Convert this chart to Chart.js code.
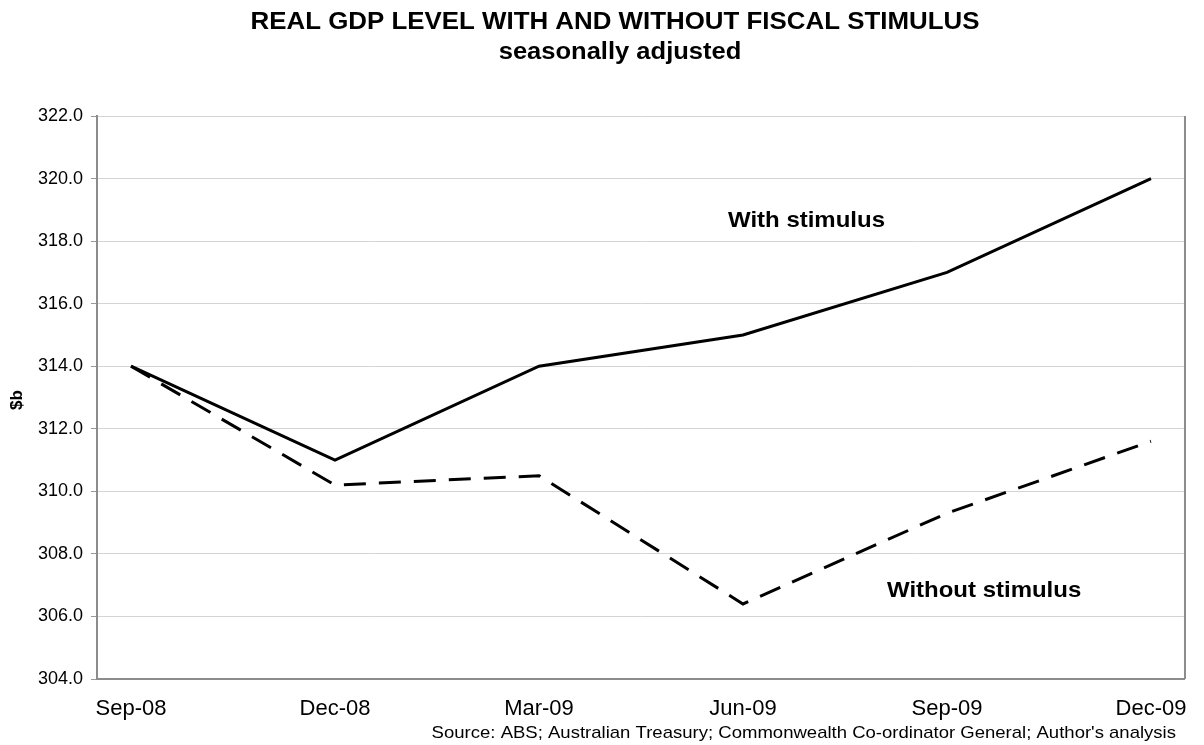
<!DOCTYPE html>
<html lang="en">

<head>
    <meta charset="UTF-8">
    <title>Real GDP Level</title>
    <script src="https://cdn.jsdelivr.net/npm/chart.js"></script>
    <style>
        body { margin: 0; background: #fff; }
    </style>
</head>

<body>
    <canvas id="gdpChart" width="1204" height="745"></canvas>

    <script>
        // Quarter labels and values ($b)
        const quarters = ['Sep-08', 'Dec-08', 'Mar-09', 'Jun-09', 'Sep-09', 'Dec-09'];
        const withStimulus = [314.0, 311.0, 314.0, 315.0, 317.0, 320.0];
        const withoutStimulus = [314.0, 310.2, 310.5, 306.4, 309.3, 311.6];
        const yTicks = [304, 306, 308, 310, 312, 314, 316, 318, 320, 322];

        const FONT = 'Arial, "Liberation Sans", sans-serif';

        // draw text with a small horizontal stretch like the original image
        function stretchedText(ctx, text, x, y, font, align, sx) {
            ctx.save();
            ctx.font = font;
            ctx.fillStyle = '#000';
            ctx.textBaseline = 'middle';
            ctx.textAlign = align;
            ctx.translate(x, y);
            ctx.scale(sx, 1);
            ctx.fillText(text, 0, 0);
            ctx.restore();
        }

        const textPlugin = {
            id: 'texts',
            afterDraw(chart) {
                const ctx = chart.ctx;
                const area = chart.chartArea;

                // right border of the plot
                ctx.save();
                ctx.strokeStyle = '#8c8c8c';
                ctx.lineWidth = 2;
                ctx.beginPath();
                ctx.moveTo(area.right, area.top);
                ctx.lineTo(area.right, area.bottom);
                ctx.stroke();
                ctx.restore();

                stretchedText(ctx, 'REAL GDP LEVEL WITH AND WITHOUT FISCAL STIMULUS', 615, 23, 'bold 23px ' + FONT, 'center', 1.125);
                stretchedText(ctx, 'seasonally adjusted', 620, 53, 'bold 23px ' + FONT, 'center', 1.11);

                stretchedText(ctx, 'With stimulus', 728, 221, 'bold 22px ' + FONT, 'left', 1.09);
                stretchedText(ctx, 'Without stimulus', 887, 591, 'bold 22px ' + FONT, 'left', 1.09);

                stretchedText(ctx, "Source: ABS; Australian Treasury; Commonwealth Co-ordinator General; Author's analysis",
                    1176, 733, '17px ' + FONT, 'right', 1.09);

                // y axis title
                ctx.save();
                ctx.translate(17, 400);
                ctx.rotate(-Math.PI / 2);
                ctx.font = 'bold 17px ' + FONT;
                ctx.fillStyle = '#000';
                ctx.textAlign = 'center';
                ctx.textBaseline = 'middle';
                ctx.fillText('$b', 0, 0);
                ctx.restore();
            }
        };

        const ctx = document.getElementById('gdpChart').getContext('2d');
        const gdpChart = new Chart(ctx, {
            type: 'line',
            data: {
                datasets: [{
                    label: 'With stimulus',
                    data: withStimulus.map((v, i) => ({ x: i, y: v })),
                    borderColor: '#000',
                    borderWidth: 3,
                    pointRadius: 0,
                    tension: 0
                }, {
                    label: 'Without stimulus',
                    data: withoutStimulus.map((v, i) => ({ x: i, y: v })),
                    borderColor: '#000',
                    borderWidth: 3,
                    borderDash: [22, 13],
                    pointRadius: 0,
                    tension: 0
                }]
            },
            options: {
                responsive: false,
                animation: false,
                devicePixelRatio: 1,
                layout: {
                    padding: { top: 116, right: 18, left: 0, bottom: 0 }
                },
                plugins: {
                    legend: { display: false },
                    tooltip: { enabled: false }
                },
                scales: {
                    x: {
                        type: 'linear',
                        min: -1 / 6,
                        max: quarters.length - 1 + 1 / 6,
                        afterBuildTicks: scale => {
                            scale.ticks = quarters.map((q, i) => ({ value: i }));
                        },
                        afterFit: scale => { scale.height = 66; },
                        ticks: {
                            callback: value => quarters[value],
                            font: { family: FONT, size: 22 },
                            color: '#000',
                            padding: 17,
                            maxRotation: 0,
                            autoSkip: false
                        },
                        grid: { display: false, drawTicks: false },
                        border: { color: '#8c8c8c', width: 2 }
                    },
                    y: {
                        min: 304,
                        max: 322,
                        afterBuildTicks: scale => {
                            scale.ticks = yTicks.map(v => ({ value: v }));
                        },
                        afterFit: scale => { scale.width = 97; },
                        ticks: {
                            callback: value => value.toFixed(1),
                            font: { family: FONT, size: 18 },
                            color: '#000',
                            padding: 8
                        },
                        grid: {
                            color: '#d4d4d4',
                            lineWidth: 1,
                            tickLength: 6,
                            tickColor: '#9a9a9a'
                        },
                        border: { color: '#8c8c8c', width: 2 }
                    }
                }
            },
            plugins: [textPlugin]
        });
    </script>
</body>

</html>
